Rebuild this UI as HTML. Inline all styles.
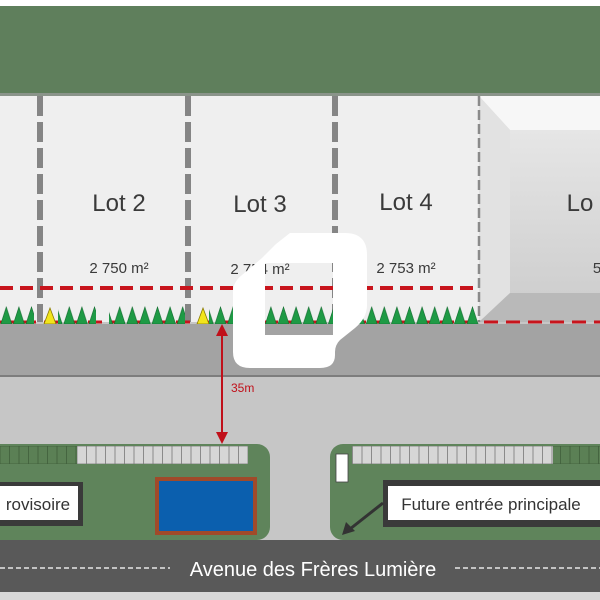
<!DOCTYPE html>
<html><head><meta charset="utf-8"><style>
html,body{margin:0;padding:0;background:#fff}
svg{display:block}
text{font-family:"Liberation Sans",sans-serif}
</style></head><body>
<svg width="600" height="600" viewBox="0 0 600 600" xmlns="http://www.w3.org/2000/svg">
<defs>
<pattern id="tree" x="0" y="306" width="12.6" height="18" patternUnits="userSpaceOnUse">
<polygon points="0.8,18 6.3,1 11.8,18" fill="#1e9a45" stroke="#0f6a2c" stroke-width="0.6"/>
</pattern>
<pattern id="cellL" x="77" y="446" width="9.5" height="18" patternUnits="userSpaceOnUse">
<rect x="0" y="0" width="9.5" height="18" fill="#d6d6d6" stroke="#777" stroke-width="0.8"/>
</pattern>
<pattern id="cellG" x="0" y="446" width="9.5" height="18" patternUnits="userSpaceOnUse">
<rect x="0" y="0" width="9.5" height="18" fill="#5b8055" stroke="#3f5e3b" stroke-width="0.8"/>
</pattern>
<linearGradient id="bev" x1="0" y1="0" x2="0" y2="1">
<stop offset="0" stop-color="#e6e6e6"/><stop offset="1" stop-color="#cfcfcf"/>
</linearGradient>
</defs>
<rect width="600" height="600" fill="#c6c6c6"/>
<rect x="0" y="0" width="600" height="6" fill="#fff"/>
<rect x="0" y="6" width="600" height="88" fill="#5f7f5c"/>
<rect x="0" y="93" width="600" height="3" fill="#8a948a"/>
<!-- lots area -->
<rect x="0" y="96" width="600" height="226" fill="#efefef"/>
<!-- lot 5 bevel -->
<rect x="479" y="96" width="121" height="226" fill="#d8d8d8"/>
<polygon points="479,96 600,96 600,130 510,130" fill="#f7f7f7"/>
<polygon points="479,96 510,130 510,293 479,322" fill="#e2e2e2"/>
<polygon points="479,322 510,293 600,293 600,322" fill="#b9b9b9"/>
<rect x="510" y="130" width="90" height="163" fill="url(#bev)"/>
<!-- dashed vertical lines -->
<g stroke="#858585" stroke-width="6" stroke-dasharray="20,6">
<line x1="40" y1="96" x2="40" y2="322"/>
<line x1="188" y1="96" x2="188" y2="322"/>
<line x1="335" y1="96" x2="335" y2="322"/>
</g>
<line x1="479" y1="96" x2="479" y2="322" stroke="#8a8a8a" stroke-width="2.5" stroke-dasharray="10,4"/>
<!-- red dashed -->
<line x1="0" y1="288" x2="479" y2="288" stroke="#c8141c" stroke-width="4" stroke-dasharray="13,7"/>
<line x1="0" y1="322" x2="600" y2="322" stroke="#c8141c" stroke-width="3" stroke-dasharray="14,8"/>
<!-- trees -->
<rect x="0" y="306" width="34" height="18" fill="url(#tree)"/>
<rect x="58" y="306" width="38" height="18" fill="url(#tree)"/>
<rect x="109" y="306" width="76" height="18" fill="url(#tree)"/>
<rect x="209" y="306" width="124" height="18" fill="url(#tree)"/>
<rect x="355" y="306" width="124" height="18" fill="url(#tree)"/>
<polygon points="44,324 50,308 56,324" fill="#f2e51c" stroke="#8a7a00" stroke-width="0.8"/>
<polygon points="197,324 203,308 209,324" fill="#f2e51c" stroke="#8a7a00" stroke-width="0.8"/>
<!-- labels -->
<g fill="#3a3a3a" font-size="24" text-anchor="middle">
<text x="119" y="211">Lot 2</text>
<text x="260" y="212">Lot 3</text>
<text x="406" y="210">Lot 4</text>
<text x="580" y="211">Lo</text>
</g>
<g fill="#3a3a3a" font-size="15" text-anchor="middle">
<text x="119" y="273">2 750 m²</text>
<text x="260" y="274">2 754 m²</text>
<text x="406" y="273">2 753 m²</text>
<text x="597" y="273">5</text>
</g>
<!-- upper road -->
<rect x="0" y="324" width="600" height="51" fill="#a3a3a3"/>
<rect x="0" y="375" width="600" height="2" fill="#7d7d7d"/>
<!-- left block -->
<rect x="-20" y="444" width="290" height="96" rx="13" fill="#5f845b"/>
<rect x="0" y="446" width="77" height="18" fill="url(#cellG)"/>
<rect x="77" y="446" width="171" height="18" fill="url(#cellL)"/>
<rect x="155" y="477" width="102" height="58" fill="#a04a2a"/>
<rect x="159" y="481" width="94" height="50" fill="#0b5fae"/>
<rect x="-6" y="482" width="89" height="44" fill="#3a3a3a"/>
<rect x="-6" y="486" width="84" height="34" fill="#fff"/>
<text x="38" y="510" font-size="17" fill="#333" text-anchor="middle">rovisoire</text>
<!-- right block -->
<rect x="330" y="444" width="290" height="96" rx="13" fill="#5f845b"/>
<rect x="352" y="446" width="201" height="18" fill="url(#cellL)"/>
<rect x="553" y="446" width="47" height="18" fill="url(#cellG)"/>
<rect x="336" y="454" width="12" height="28" fill="#fff" stroke="#444" stroke-width="0.8"/>
<rect x="383" y="480" width="222" height="47" fill="#3a3a3a"/>
<rect x="388" y="486" width="212" height="34" fill="#fff"/>
<text x="491" y="510" font-size="17" fill="#333" text-anchor="middle">Future entrée principale</text>
<line x1="383" y1="503" x2="350" y2="529" stroke="#333" stroke-width="3"/>
<polygon points="342,535 346,522 355,531" fill="#333"/>
<!-- bottom road -->
<rect x="0" y="540" width="600" height="52" fill="#595959"/>
<rect x="0" y="592" width="600" height="8" fill="#d8d8d8"/>
<line x1="0" y1="568" x2="170" y2="568" stroke="#e8e8e8" stroke-width="1.5" stroke-dasharray="5,3"/>
<line x1="455" y1="568" x2="600" y2="568" stroke="#e8e8e8" stroke-width="1.5" stroke-dasharray="5,3"/>
<text x="313" y="576" font-size="20" fill="#fff" text-anchor="middle">Avenue des Frères Lumière</text>
<!-- 35m arrow -->
<line x1="222" y1="334" x2="222" y2="434" stroke="#c0101a" stroke-width="2"/>
<polygon points="216,336 222,324 228,336" fill="#c0101a"/>
<polygon points="216,432 222,444 228,432" fill="#c0101a"/>
<text x="231" y="392" font-size="12" fill="#c0101a">35m</text>
<!-- white blob -->
<path fill-rule="evenodd" fill="#fff" d="M290,233 L345,233 Q367,233 367,255 L367,305 Q367,318 355,328 L340,340 Q335,345 335,352 L335,355 Q335,368 320,368 L250,368 Q233,368 233,352 L233,292 Q233,282 242,275 L262,258 Q270,250 276,244 Z M265,263 L333,263 L333,335 L265,335 Z"/>
</svg>
</body></html>
